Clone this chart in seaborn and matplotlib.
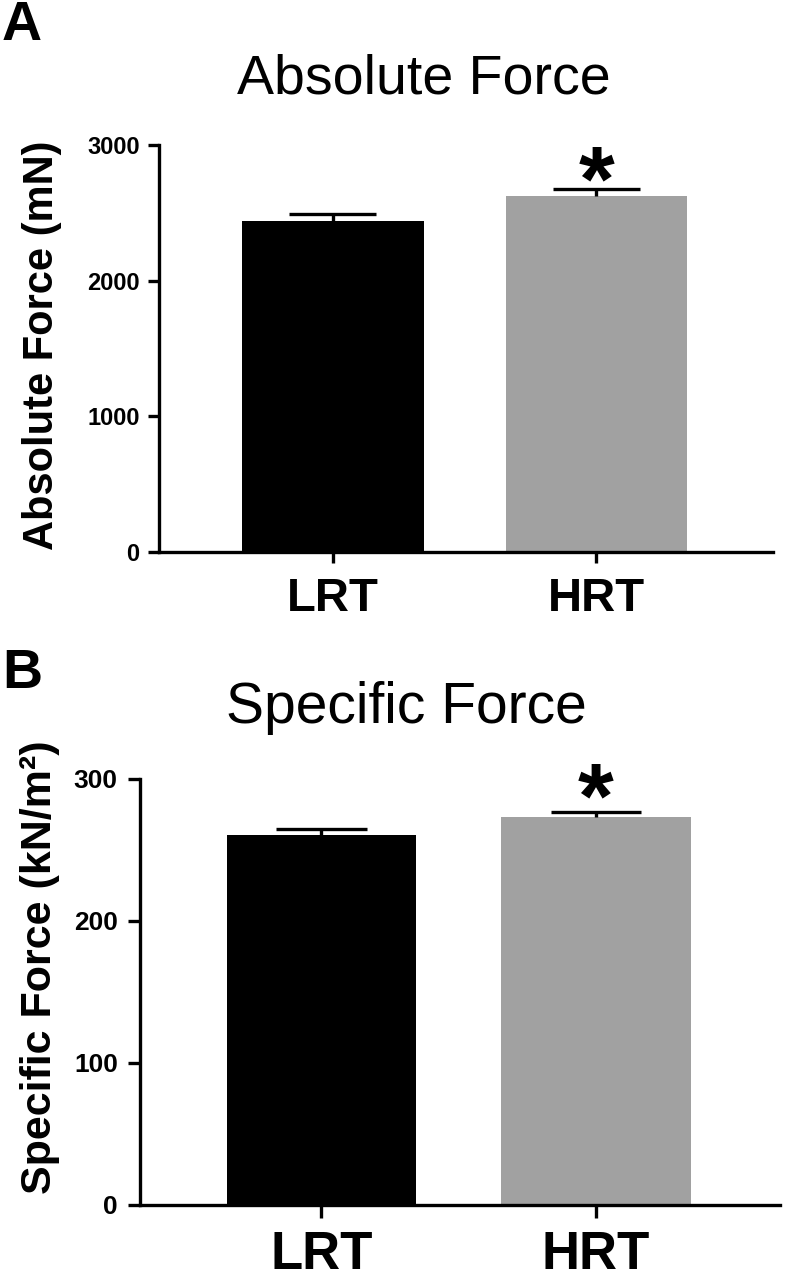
import matplotlib
matplotlib.use("Agg")
import matplotlib.pyplot as plt
import seaborn as sns
import pandas as pd
import numpy as np

# ---- data ----
groups = ["LRT", "HRT"]
abs_mean = [2438, 2625]
abs_sem = [52, 50]
spec_mean = [260.5, 273.2]
spec_sem = [4.0, 3.6]
abs_ticks = [0, 1000, 2000, 3000]
spec_ticks = [0, 100, 200, 300]
bar_colors = ["#000000", "#a1a1a1"]

sns.set_theme(style="ticks")
plt.rcParams['font.family'] = ['Liberation Sans', 'DejaVu Sans']
plt.rcParams['text.color'] = 'black'
plt.rcParams['axes.labelcolor'] = 'black'
plt.rcParams['xtick.color'] = 'black'
plt.rcParams['ytick.color'] = 'black'

W, H = 787, 1279
fig = plt.figure(figsize=(W / 100, H / 100), dpi=100)


def px_axes(left, right, top, bottom):
    return fig.add_axes([left / W, 1 - bottom / H, (right - left) / W, (bottom - top) / H])


def panel(ax, means, sems, yticks, ylabel, tick_fs, xtick_fs, label_fs,
          ylab_xy, tick_len, ypad, xpad, star_off, star_fs):
    df = pd.DataFrame({"group": groups, "value": means})
    sns.barplot(data=df, x="group", y="value", hue="group", palette=bar_colors,
                order=groups, hue_order=groups, width=0.69, errorbar=None,
                legend=False, ax=ax, linewidth=0, saturation=1)
    xs = np.arange(len(groups))
    tops = np.array(means) + np.array(sems)
    # upper-only error bars: stem + single cap
    ax.vlines(xs, means, tops, colors="black", linewidth=2.4, zorder=5)
    ax.hlines(tops, xs - 0.165, xs + 0.165, colors="black", linewidth=2.4, zorder=5)
    ax.set_xlim(-0.66, 1.67)
    ax.set_ylim(yticks[0], yticks[-1])
    ax.set_yticks(yticks)
    ax.set_yticklabels([str(t) for t in yticks], fontsize=tick_fs, fontweight="bold")
    ax.set_xticks(xs)
    ax.set_xticklabels(groups, fontsize=xtick_fs, fontweight="bold")
    ax.set_xlabel("")
    ax.set_ylabel(ylabel, fontsize=label_fs, fontweight="bold", va="center", color="black")
    ax.yaxis.set_label_coords(*ylab_xy)
    for s in ["top", "right"]:
        ax.spines[s].set_visible(False)
    for s in ["left", "bottom"]:
        ax.spines[s].set_linewidth(2.4)
        ax.spines[s].set_color("black")
        ax.spines[s].set_clip_on(False)
    ax.tick_params(axis="y", length=tick_len, width=2.4, pad=ypad, colors="black")
    ax.tick_params(axis="x", length=tick_len, width=2.4, pad=xpad, colors="black")
    ax.set_facecolor("white")
    ax.annotate("*", xy=(1, tops[1]), xytext=(0, star_off),
                textcoords="offset points", ha="center", va="baseline",
                fontsize=star_fs, fontweight="bold", color="black")


axA = px_axes(159, 773, 145, 552)
panel(axA, abs_mean, abs_sem, abs_ticks, "Absolute Force (mN)", 17, 34, 30,
      (-0.19, 0.507), 8, 6, 10, -15, 66)

axB = px_axes(140, 780, 779, 1205)
panel(axB, spec_mean, spec_sem, spec_ticks, "Specific Force (kN/m²)", 19, 38, 31,
      (-0.156, 0.559), 9, 7, 9, -11, 66)

fig.text(424 / W, 1 - 93 / H, "Absolute Force", ha="center", va="baseline",
         fontsize=40, color="black")
fig.text(406 / W, 1 - 723 / H, "Specific Force", ha="center", va="baseline",
         fontsize=41, color="black")
fig.text(2 / W, 1 - 40 / H, "A", ha="left", va="baseline", fontsize=40,
         fontweight="bold", color="black")
fig.text(2 / W, 1 - 688 / H, "B", ha="left", va="baseline", fontsize=40,
         fontweight="bold", color="black")

fig.savefig("out.png", dpi=100, facecolor="white")
